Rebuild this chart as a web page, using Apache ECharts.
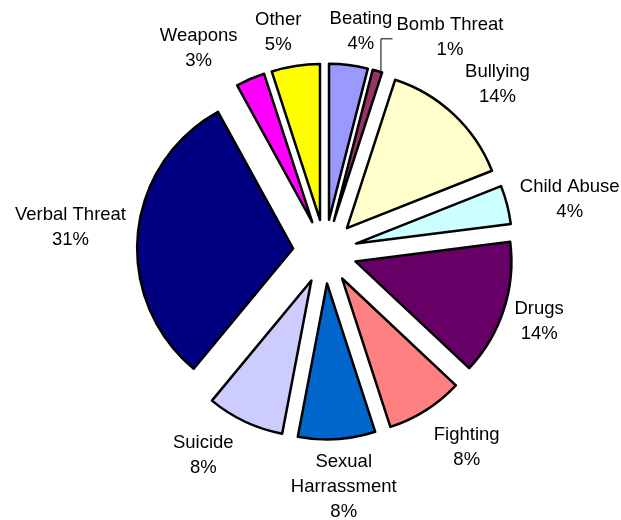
<!DOCTYPE html>
<html>
<head>
<meta charset="utf-8">
<script src="https://cdn.jsdelivr.net/npm/echarts@6/dist/echarts.min.js"></script>
<style>
  html, body { margin: 0; padding: 0; background: #ffffff; }
  #chart { width: 621px; height: 520px; }
</style>
</head>
<body>
<div id="chart"></div>
<script>
// Incident categories, clockwise from 12 o'clock
const categories = ['Beating', 'Bomb Threat', 'Bullying', 'Child Abuse', 'Drugs', 'Fighting',
  'Sexual\nHarrassment', 'Suicide', 'Verbal Threat', 'Weapons', 'Other'];
// Share of incidents, in percent
const percentages = [4, 1, 14, 4, 14, 8, 8, 8, 31, 3, 5];
// Classic office palette for the slices
const sliceColors = ['#9999FF', '#993366', '#FFFFCC', '#CCFFFF', '#660066', '#FF8080',
  '#0066CC', '#CCCCFF', '#000080', '#FF00FF', '#FFFF00'];

// Pie geometry
const CX = 325, CY = 251.5, RADIUS = 156, EXPLODE = 32, LABEL_GAP = 6;
// Hand nudges that keep neighbouring labels apart
const labelShift = {
  'Beating': [8, 1],
  'Bomb Threat': [60, 10],
  'Bullying': [12, 4],
  'Child Abuse': [4, 10],
  'Fighting': [17, -1],
  'Sexual\nHarrassment': [4, 1],
  'Suicide': [-24, -4],
  'Verbal Threat': [-4, 0],
  'Weapons': [-34, 10],
  'Other': [-12, 0]
};

const total = percentages.reduce((a, b) => a + b, 0);
const midAngles = [];
let acc = 0;
percentages.forEach(v => {
  midAngles.push((acc + v / 2) / total * Math.PI * 2);
  acc += v;
});

const chart = echarts.init(document.getElementById('chart'), null, { renderer: 'canvas' });

const pieBase = {
  type: 'pie',
  center: [CX, CY],
  radius: RADIUS,
  startAngle: 90,
  clockwise: true,
  emphasis: { disabled: true }
};

chart.setOption({
  backgroundColor: '#ffffff',
  animation: false,
  series: [
    // exploded slices
    Object.assign({}, pieBase, {
      selectedMode: 'multiple',
      selectedOffset: EXPLODE,
      itemStyle: { borderColor: '#000000', borderWidth: 2.5 },
      select: { itemStyle: { borderColor: '#000000', borderWidth: 2.5 } },
      label: { show: false },
      labelLine: { show: false },
      data: categories.map((name, i) => ({
        name: name,
        value: percentages[i],
        selected: true,
        itemStyle: { color: sliceColors[i] }
      }))
    }),
    // category / percent labels placed just outside each exploded slice
    Object.assign({}, pieBase, {
      silent: true,
      z: 3,
      avoidLabelOverlap: false,
      itemStyle: { color: 'rgba(0,0,0,0)', borderWidth: 0 },
      label: {
        show: true,
        position: 'outside',
        fontFamily: 'Liberation Sans, Arial, sans-serif',
        fontSize: 18.5,
        lineHeight: 25,
        color: '#000000',
        formatter: p => p.name + '\n' + p.value + '%'
      },
      labelLine: { show: false, smooth: false, lineStyle: { color: '#000000', width: 1 } },
      labelLayout: function (params) {
        const i = params.dataIndex;
        const name = categories[i];
        const a = midAngles[i];
        const ux = Math.sin(a), uy = -Math.cos(a);
        const w = params.labelRect.width, h = params.labelRect.height;
        const reach = RADIUS + EXPLODE + LABEL_GAP + (w / 2) * Math.abs(ux) + (h / 2) * Math.abs(uy);
        const s = labelShift[name] || [0, 0];
        const x = CX + reach * ux + s[0];
        const y = CY + reach * uy + s[1];
        const out = { x: x, y: y, align: 'center', verticalAlign: 'middle' };
        if (name === 'Bomb Threat') {
          // elbow leader from the slice's outer edge to the label
          const ox = CX + (EXPLODE + RADIUS) * ux + 3.5;
          const oy = CY + (EXPLODE + RADIUS) * uy;
          const ly = y + 1;
          out.labelLinePoints = [[ox, oy], [ox, ly], [x - w / 2 - 4, ly]];
        }
        return out;
      },
      data: categories.map((name, i) => ({
        name: name,
        value: percentages[i],
        labelLine: { show: name === 'Bomb Threat' }
      }))
    })
  ]
});
</script>
</body>
</html>
